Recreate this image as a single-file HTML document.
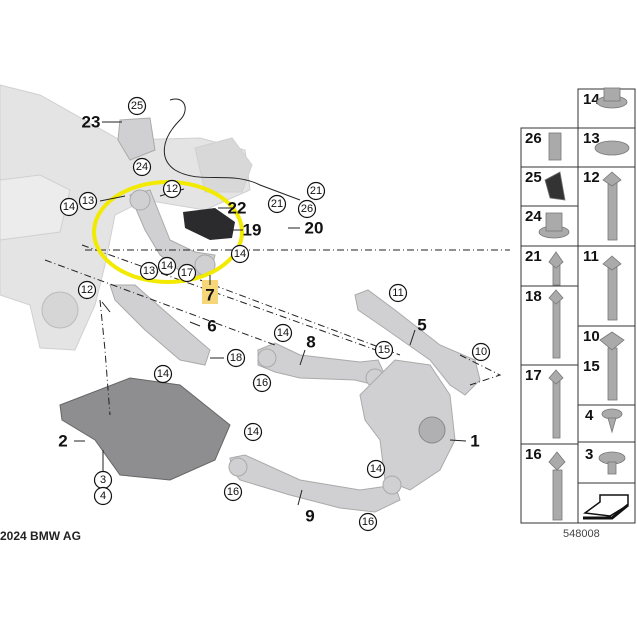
<!DOCTYPE html>
<html><head><style>
html,body{margin:0;padding:0;background:#fff;}
svg{display:block;font-family:"Liberation Sans",sans-serif;}
.c{fill:#fff;stroke:#111;stroke-width:1.2}
.t{font-size:11px;fill:#111;text-anchor:middle;dominant-baseline:central}
.b{font-size:17px;font-weight:bold;fill:#111;text-anchor:middle;dominant-baseline:central}
.bl{font-size:15px;font-weight:bold;fill:#111}
.g{fill:#d0d0d2;stroke:#aaa;stroke-width:1}
.lg{fill:#e4e4e4;stroke:#d0d0d0;stroke-width:1}
.d{stroke:#222;stroke-width:1;fill:none;stroke-dasharray:7 3 1 3}
.l{stroke:#222;stroke-width:1;fill:none}
</style></head><body>
<svg width="637" height="624" viewBox="0 0 637 624">
<g class="lg">
<path d="M0 85 L40 95 L120 140 L200 138 L245 150 L250 190 L205 210 L145 200 L115 215 L105 265 L95 305 L75 350 L40 348 L30 305 L0 295 Z"/>
<path d="M0 180 L40 175 L70 190 L60 232 L0 240 Z" fill="#ececec"/>
<path d="M195 148 L232 138 L252 165 L242 192 L205 192 Z" fill="#d8d8d8"/>
</g>
<circle cx="60" cy="310" r="18" fill="#d6d6d6" stroke="#bbb"/>
<path class="g" d="M130 195 L150 190 L160 215 L170 240 L195 252 L215 255 L210 275 L185 275 L160 255 L145 230 Z"/>
<circle cx="140" cy="200" r="10" class="g"/>
<circle cx="205" cy="265" r="10" class="g"/>
<path d="M183 212 L215 208 L235 222 L232 238 L210 240 L185 228 Z" fill="#2b2b2d"/>
<path d="M120 120 L150 118 L155 150 L130 160 L118 140 Z" class="g"/>
<path class="l" d="M170 100 C185 95 190 110 180 120 C160 140 160 160 175 170 C200 185 230 170 260 185 L300 200" stroke="#444" stroke-width="1.5"/>
<path class="g" d="M110 285 L135 285 L175 320 L210 350 L205 365 L180 360 L145 330 L115 300 Z" fill="#b8b8ba"/>
<path fill="#8e8e90" stroke="#666" d="M60 405 L130 378 L180 385 L230 425 L215 460 L170 480 L120 475 L95 440 L62 420 Z"/>
<path class="g" d="M258 350 L275 343 L300 355 L360 362 L378 360 L385 375 L375 385 L355 380 L300 378 L275 372 L258 365 Z"/>
<circle cx="267" cy="358" r="9" class="g"/><circle cx="375" cy="378" r="9" class="g"/>
<path class="g" d="M355 295 L368 290 L395 310 L440 345 L475 360 L480 380 L465 395 L450 385 L430 360 L380 325 L358 310 Z"/>
<path class="g" d="M360 395 L395 360 L430 365 L450 395 L455 440 L440 470 L410 490 L385 480 L380 440 L365 420 Z" fill="#c8c8ca"/>
<circle cx="432" cy="430" r="13" fill="#b0b0b2" stroke="#888"/>
<path class="g" d="M230 458 L245 455 L300 480 L360 490 L395 485 L400 500 L375 512 L340 508 L290 495 L240 480 L232 470 Z"/>
<circle cx="238" cy="467" r="9" class="g"/><circle cx="392" cy="485" r="9" class="g"/>
<path class="d" d="M85 250 L510 250"/>
<path class="d" d="M82 245 L390 355"/>
<path class="d" d="M45 260 L275 345"/>
<path class="d" d="M100 300 L105 350 L110 415"/>
<path class="d" d="M460 355 L500 375 L470 385"/>
<path class="d" d="M200 280 L400 355"/>
<ellipse cx="168" cy="232" rx="74" ry="50" fill="none" stroke="#f2ea00" stroke-width="4"/>
<rect x="202" y="280" width="16" height="24" fill="#f5d77a"/>
<g class="l">
<path d="M102 122 L122 122"/><path d="M100 201 L125 196"/><path d="M184 189 L160 196"/>
<path d="M218 208 L232 208"/><path d="M243 230 L230 230"/><path d="M300 228 L288 228"/>
<path d="M210 285 L210 275"/><path d="M200 326 L190 322"/><path d="M305 350 L300 365"/>
<path d="M415 330 L410 345"/><path d="M466 441 L450 440"/><path d="M74 441 L85 441"/>
<path d="M102 302 L110 312"/><path d="M224 358 L210 358"/><path d="M298 505 L302 490"/>
<path d="M103 450 L103 472"/>
</g>
<g>
<circle class="c" cx="137" cy="106" r="8.5"/><text class="t" x="137" y="106">25</text>
<circle class="c" cx="142" cy="167" r="8.5"/><text class="t" x="142" y="167">24</text>
<circle class="c" cx="172" cy="189" r="8.5"/><text class="t" x="172" y="189">12</text>
<circle class="c" cx="88" cy="201" r="8.5"/><text class="t" x="88" y="201">13</text>
<circle class="c" cx="69" cy="207" r="8.5"/><text class="t" x="69" y="207">14</text>
<circle class="c" cx="316" cy="191" r="8.5"/><text class="t" x="316" y="191">21</text>
<circle class="c" cx="307" cy="209" r="8.5"/><text class="t" x="307" y="209">26</text>
<circle class="c" cx="277" cy="204" r="8.5"/><text class="t" x="277" y="204">21</text>
<circle class="c" cx="240" cy="254" r="8.5"/><text class="t" x="240" y="254">14</text>
<circle class="c" cx="149" cy="271" r="8.5"/><text class="t" x="149" y="271">13</text>
<circle class="c" cx="167" cy="266" r="8.5"/><text class="t" x="167" y="266">14</text>
<circle class="c" cx="187" cy="273" r="8.5"/><text class="t" x="187" y="273">17</text>
<circle class="c" cx="87" cy="290" r="8.5"/><text class="t" x="87" y="290">12</text>
<circle class="c" cx="398" cy="293" r="8.5"/><text class="t" x="398" y="293">11</text>
<circle class="c" cx="283" cy="333" r="8.5"/><text class="t" x="283" y="333">14</text>
<circle class="c" cx="384" cy="350" r="8.5"/><text class="t" x="384" y="350">15</text>
<circle class="c" cx="262" cy="383" r="8.5"/><text class="t" x="262" y="383">16</text>
<circle class="c" cx="236" cy="358" r="8.5"/><text class="t" x="236" y="358">18</text>
<circle class="c" cx="163" cy="374" r="8.5"/><text class="t" x="163" y="374">14</text>
<circle class="c" cx="481" cy="352" r="8.5"/><text class="t" x="481" y="352">10</text>
<circle class="c" cx="253" cy="432" r="8.5"/><text class="t" x="253" y="432">14</text>
<circle class="c" cx="233" cy="492" r="8.5"/><text class="t" x="233" y="492">16</text>
<circle class="c" cx="376" cy="469" r="8.5"/><text class="t" x="376" y="469">14</text>
<circle class="c" cx="368" cy="522" r="8.5"/><text class="t" x="368" y="522">16</text>
<circle class="c" cx="103" cy="480" r="8.5"/><text class="t" x="103" y="480">3</text>
<circle class="c" cx="103" cy="496" r="8.5"/><text class="t" x="103" y="496">4</text>
</g>
<g>
<text class="b" x="91" y="122">23</text><text class="b" x="237" y="208">22</text>
<text class="b" x="252" y="230">19</text><text class="b" x="314" y="228">20</text>
<text class="b" x="210" y="295">7</text><text class="b" x="212" y="326">6</text>
<text class="b" x="311" y="342">8</text><text class="b" x="422" y="325">5</text>
<text class="b" x="63" y="441">2</text><text class="b" x="475" y="441">1</text>
<text class="b" x="310" y="516">9</text>
</g>
<text x="0" y="540" style="font-size:12px;font-weight:bold;fill:#222">2024 BMW AG</text>
<g fill="none" stroke="#333" stroke-width="1">
<rect x="521" y="128" width="57" height="395"/>
<rect x="578" y="89" width="57" height="434"/>
<path d="M521 167H578M521 206H578M521 246H635M521 286H578M521 365H578M521 444H578M578 128H635M578 167H635M578 326H635M578 405H635M578 442H635M578 483H635"/>
</g>
<g class="bl">
<text x="583" y="104">14</text><text x="525" y="143">26</text><text x="583" y="143">13</text>
<text x="525" y="182">25</text><text x="583" y="182">12</text><text x="525" y="221">24</text>
<text x="525" y="261">21</text><text x="583" y="261">11</text><text x="525" y="301">18</text>
<text x="583" y="341">10</text><text x="583" y="371">15</text><text x="525" y="380">17</text>
<text x="585" y="420">4</text><text x="585" y="459">3</text><text x="525" y="459">16</text>
</g>
<g fill="#aaa" stroke="#777" stroke-width="0.8">
<ellipse cx="612" cy="102" rx="15" ry="6"/><rect x="604" y="88" width="16" height="13"/>
<ellipse cx="612" cy="148" rx="17" ry="7"/>
<rect x="549" y="133" width="12" height="27"/>
<path d="M545 180 L560 172 L565 200 L550 198 Z" fill="#333"/>
<ellipse cx="554" cy="232" rx="15" ry="6"/><rect x="546" y="213" width="16" height="18"/>
<rect x="608" y="180" width="9" height="60"/><polygon points="603,180 612,172 621,180 612,186"/>
<rect x="553" y="265" width="7" height="20"/><polygon points="549,262 556,252 563,262 556,268"/>
<rect x="553" y="300" width="7" height="58"/><polygon points="549,298 556,290 563,298 556,304"/>
<rect x="608" y="265" width="9" height="55"/><polygon points="603,264 612,256 621,264 612,270"/>
<rect x="608" y="348" width="9" height="52"/><polygon points="600,340 612,332 624,340 612,350"/>
<rect x="553" y="380" width="7" height="58"/><polygon points="549,378 556,370 563,378 556,384"/>
<ellipse cx="612" cy="414" rx="10" ry="5"/><polygon points="608,418 616,418 612,432"/>
<ellipse cx="612" cy="458" rx="13" ry="6"/><rect x="608" y="462" width="8" height="12"/>
<rect x="553" y="470" width="9" height="50"/><polygon points="549,462 557,452 565,462 557,470"/>
</g>
<path d="M585 513 L600 502 L600 495 L628 495 L628 505 L610 516 Z" fill="#fff" stroke="#111" stroke-width="1.5"/>
<path d="M583 518 L612 518 L628 505" fill="none" stroke="#111" stroke-width="3"/>
<text x="563" y="537" style="font-size:11px;fill:#444">548008</text>
</svg>
</body></html>
